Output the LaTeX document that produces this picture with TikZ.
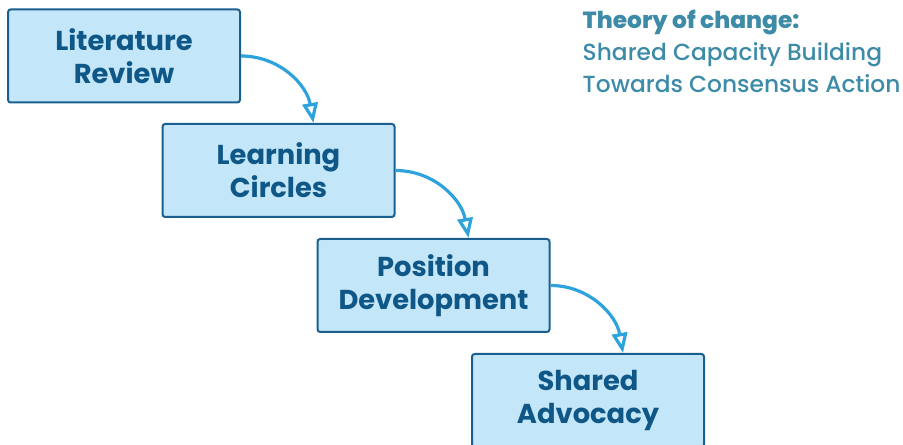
\documentclass[tikz,border=0pt]{standalone}
\usepackage{fontspec}
\setmainfont{Poppins}
\newfontfamily\medfont{Poppins Medium}
\usepackage{tikz}
\usetikzlibrary{arrows.meta,calc}

\definecolor{boxfill}{HTML}{C3E6F8}
\definecolor{boxline}{HTML}{1A5F8E}
\definecolor{boxtext}{HTML}{0F5786}
\definecolor{arrowblue}{HTML}{2EA3DB}
\definecolor{titleblue}{HTML}{3E8BA8}

\begin{document}
\begin{tikzpicture}[x=0.75pt,y=0.75pt,
		stage/.style={draw=boxline,fill=boxfill,line width=1.5pt,rounded corners=2pt,
			minimum width=174pt,minimum height=69.75pt,align=center,text=boxtext,
			font=\bfseries\fontsize{20.5}{24.5}\selectfont},
		flow/.style={arrowblue,line width=2.4pt,-{Triangle[open,length=15pt,width=11.5pt]}}]
			\useasboundingbox (0,0) rectangle (903,445);
			
			% the four stages
			\node[stage] (litrev) at (124,389) {Literature\\Review};
			\node[stage] (circles) at (278.5,274.5) {Learning\\Circles};
			\node[stage] (position) at (433.5,159.5) {Position\\Development};
			\node[stage] (advocacy) at (588,44.5) {Shared\\Advocacy};
			
			% arrows between stages
			\draw[flow] (litrev.east) to[out=0,in=100] ($(circles.north)+(35,0)$);
			\draw[flow] (circles.east) to[out=0,in=100] ($(position.north)+(35,0)$);
			\draw[flow] (position.east) to[out=0,in=100] ($(advocacy.north)+(35,0)$);
			
			% title
			\node[anchor=north west,align=left,text=titleblue,font=\medfont\fontsize{17.5}{24}\selectfont]
				(title) at (578,440) {{\bfseries Theory of change:}\\Shared Capacity Building\\Towards Consensus Action};
		\end{tikzpicture}
\end{document}
